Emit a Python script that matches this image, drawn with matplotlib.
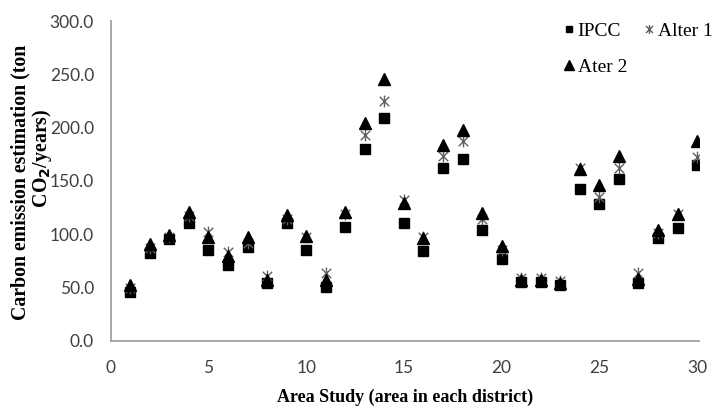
import matplotlib
matplotlib.use("Agg")
import matplotlib.pyplot as plt
from matplotlib.path import Path

areas = list(range(1, 31))
ipcc = [46, 82, 95, 110, 85, 71, 88, 54, 110, 85,
        50, 107, 180, 209, 110, 84, 162, 170, 104, 77,
        55, 55, 52, 142, 128, 152, 54, 96, 106, 165]
alter1 = [49, 87, 97, 117, 102, 83, 92, 61, 114, 97,
          63, 119, 193, 225, 132, 97, 173, 187, 114, 85,
          59, 59, 56, 162, 135, 162, 63, 101, 119, 172]
alter2 = [52, 91, 99, 121, 97, 79, 97, 57, 118, 98,
          57, 121, 204, 246, 129, 96, 184, 198, 120, 89,
          57, 57, 54, 161, 146, 173, 58, 104, 119, 187]
yticks = [0, 50, 100, 150, 200, 250, 300]
xticks = [0, 5, 10, 15, 20, 25, 30]

star = Path([(-1, -1), (1, 1), (-1, 1), (1, -1), (0, -1.25), (0, 1.25)],
            [Path.MOVETO, Path.LINETO, Path.MOVETO, Path.LINETO, Path.MOVETO, Path.LINETO])

fig = plt.figure(figsize=(7.13, 4.08), dpi=100)
ax = fig.add_axes([0.1553, 0.1654, 0.8251, 0.7831])

serif = ["Liberation Serif", "DejaVu Serif"]
sans = ["Lato", "DejaVu Sans"]

h1, = ax.plot(areas, ipcc, ls="none", marker="s", ms=6.5, color="black", label="IPCC")
h2, = ax.plot(areas, alter1, ls="none", marker=star, ms=8.5, mew=1.0,
              color="#606060", mec="#606060", label="Alter 1")
h3, = ax.plot(areas, alter2, ls="none", marker="^", ms=8.8, color="black", label="Ater 2")

ax.set_xlim(0, 30.1)
ax.set_ylim(0, 300)
ax.set_xticks(xticks)
ax.set_yticks(yticks)
ax.set_xticklabels([str(v) for v in xticks], family=sans, fontsize=12.5, color="#404040")
ax.set_yticklabels([f"{v:.1f}" for v in yticks], family=sans, fontsize=12.5, color="#404040")
ax.tick_params(axis="x", length=0, pad=14)
ax.tick_params(axis="y", length=0, pad=12)
for s in ["top", "right"]:
    ax.spines[s].set_visible(False)
for s in ["left", "bottom"]:
    ax.spines[s].set_color("#a0a0a0")
    ax.spines[s].set_linewidth(1.3)

ax.set_xlabel("Area Study (area in each district)", family=serif, fontweight="bold",
              fontsize=13, labelpad=9)
ax.set_ylabel("Carbon emission estimation (ton\n          CO$_\\mathbf{2}$/years)", family=serif,
              fontweight="bold", fontsize=14.3, linespacing=1.0, va="center")
ax.yaxis.set_label_coords(-0.1335, 0.495)

leg = fig.legend(handles=[h1, h3, h2], loc="upper right", bbox_to_anchor=(1.0, 0.945),
                 ncol=2, frameon=False, prop={"family": serif, "size": 14},
                 handlelength=0.5, handletextpad=0.2, columnspacing=0.9,
                 labelspacing=0.95, borderpad=0.0, borderaxespad=0.0, markerscale=0.75)

fig.savefig("out.png", dpi=100)
